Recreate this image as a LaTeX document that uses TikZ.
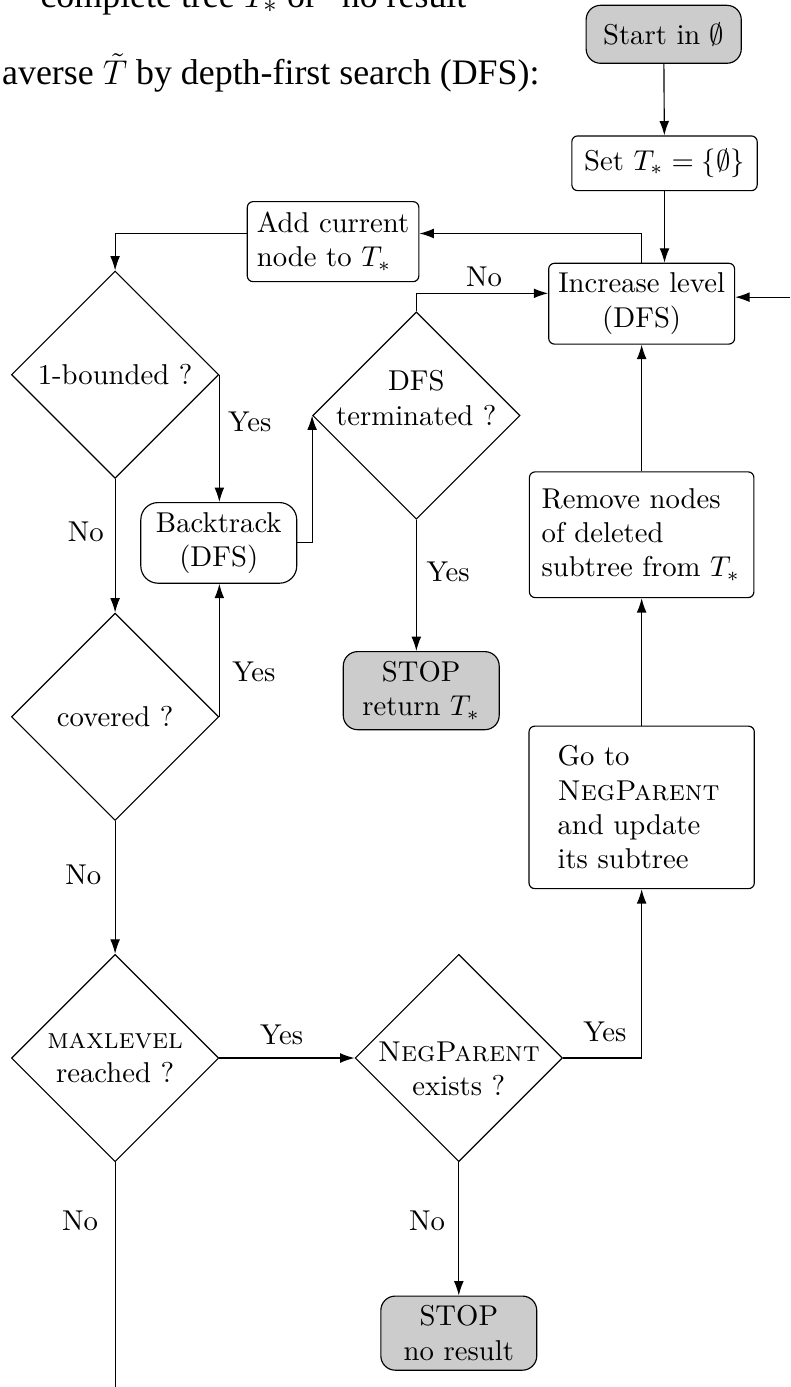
\documentclass[tikz,border=0pt]{standalone}
\usepackage{amsmath,amssymb}
\usepackage{fontspec}
\newfontfamily\pagefont{Liberation Serif}
\usetikzlibrary{shapes.geometric,arrows.meta}
\usetikzlibrary{positioning}

\tikzset{
  box/.style={draw, rounded corners=2pt, align=center},
  stopbox/.style={box, fill=black!20, rounded corners=5pt},
  decision/.style={draw, diamond, aspect=1, minimum size=2.54cm, inner sep=-6pt, align=center},
  pagetext/.style={anchor=base west, inner sep=0pt, font=\pagefont\fontsize{12.5}{14}\selectfont}
}

\begin{document}
\begin{tikzpicture}[>={Latex[length=5pt,width=3.4pt]}]
\useasboundingbox (0,0) rectangle (9.68,-16.99);
% lines of the surrounding page
\node[pagetext] (line1) at (0.49,-0.09) {complete tree $T_*$ or “no result”};
\node[pagetext] (line2) at (0.02,-1.04) {averse $\tilde{T}$ by depth-first search (DFS):};
% boxes
\node[stopbox, minimum width=1.90cm, minimum height=0.71cm] (start) at (8.13,-0.42) {Start in $\emptyset$};
\node[box, minimum width=2.27cm, minimum height=0.67cm] (set) at (8.14,-2.00) {Set $T_* = \{\emptyset\}$};
\node[box, align=left, minimum width=2.06cm, minimum height=0.98cm] (add) at (4.08,-2.96) {Add current\\node to $T_*$};
\node[box, minimum width=2.27cm, minimum height=0.99cm] (inc) at (7.86,-3.72) {Increase level\\(DFS)};
\node[box, rounded corners=6pt, minimum width=1.91cm, minimum height=0.88cm] (back) at (2.68,-6.65) {Backtrack\\(DFS)};
\node[stopbox, minimum width=1.91cm, minimum height=0.88cm] (stopT) at (5.16,-8.46) {STOP\\return $T_*$};
\node[box, align=left, text width=2.45cm, inner xsep=0.15cm, minimum height=1.54cm] (rem) at (7.86,-6.55) {Remove nodes\\of deleted\\subtree from $T_*$};
\node[box, align=left, text width=2.06cm, inner xsep=0.35cm, minimum height=1.99cm] (goto) at (7.86,-9.89) {Go to\\\textsc{NegParent}\\and update\\its subtree};
\node[stopbox, minimum width=1.91cm, minimum height=0.87cm] (stopN) at (5.62,-16.33) {STOP\\no result};
% decisions
\node[decision] (bnd) at (1.41,-4.59) {1-bounded ?};
\node[decision] (dfs) at (5.10,-5.09) {DFS\\terminated ?\rule[-4.3mm]{0pt}{4.3mm}};
\node[decision] (cov) at (1.41,-8.78) {covered ?};
\node[decision] (max) at (1.41,-12.96) {\textsc{maxlevel}\\reached ?};
\node[decision] (neg) at (5.62,-12.96) {\rule{0pt}{5mm}\textsc{NegParent}\\exists ?};
% free ends at the border
\coordinate (incin) at (9.68,-3.64);
\coordinate (maxout) at (1.41,-16.99);
% connectors
\draw[->] (start) -- (set);
\draw[->] (set.south) -- (set.south |- inc.north);
\draw[->] (inc.north) |- ([yshift=1mm]add.east);
\draw[->] ([yshift=1mm]add.west) -| (bnd.north);
\draw[->] (bnd.east) -- (bnd.east |- back.north);
\draw[->] (bnd.south) -- (cov.north);
\draw[->] (cov.east) -- (cov.east |- back.south);
\draw[->] (back.east) -| (dfs.west);
\draw[->] (dfs.north) -- ++(0,0.22) coordinate (dfsup) -- (dfsup -| inc.west);
\draw[->] (dfs.south) -- (dfs.south |- stopT.north);
\draw[->] (cov.south) -- (max.north);
\draw[->] (max.east) -- (neg.west);
\draw[->] (neg.east) -| (goto.south);
\draw[->] (goto.north) -- (rem.south);
\draw[->] (rem.north) -- (inc.south);
\draw[->] (neg.south) -- (stopN.north);
\draw (max.south) -- (maxout);
\draw[->] (incin) -- (incin -| inc.east);
%% answers on the branches
\node (no1) at (5.93,-3.39) {No};
\node (yes1) at (3.06,-5.17) {Yes};
\node (no2) at (1.05,-6.51) {No};
\node (yes2) at (3.11,-8.23) {Yes};
\node (yes3) at (5.49,-7.00) {Yes};
\node (no3) at (1.02,-10.72) {No};
\node (yes4) at (3.45,-12.68) {Yes};
\node (yes5) at (7.41,-12.64) {Yes};
\node (no4) at (0.98,-14.95) {No};
\node (no5) at (5.23,-14.95) {No};
\end{tikzpicture}
\end{document}
